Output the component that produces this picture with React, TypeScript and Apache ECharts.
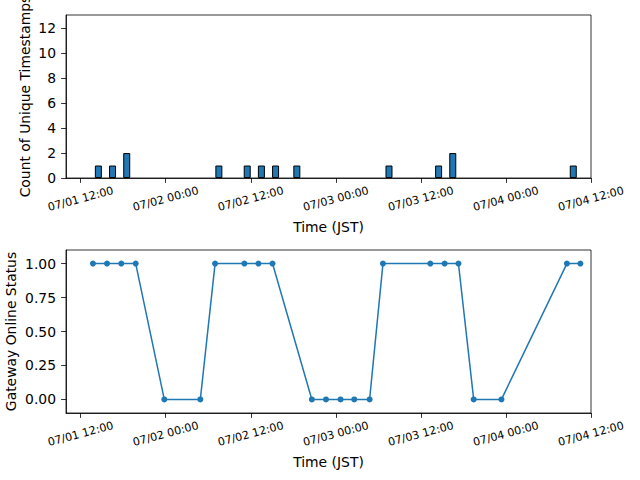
import React, { useEffect, useRef } from "react";
import * as echarts from "echarts";

// Hourly bins (start time, JST) that hold unique timestamps, and their counts
const barBins: string[] = [
  "07/01 14:00", "07/01 16:00", "07/01 18:00",
  "07/02 07:00", "07/02 11:00", "07/02 13:00", "07/02 15:00", "07/02 18:00",
  "07/03 07:00", "07/03 14:00", "07/03 16:00",
  "07/04 09:00",
];
const barCounts: number[] = [1, 1, 2, 1, 1, 1, 1, 1, 1, 1, 2, 1];

// Gateway online status checks (JST)
const statusTimes: string[] = [
  "07/01 13:44", "07/01 15:43", "07/01 17:44", "07/01 19:46",
  "07/01 23:48", "07/02 04:53",
  "07/02 06:58", "07/02 11:06", "07/02 13:05", "07/02 15:04",
  "07/02 20:37", "07/02 22:37", "07/03 00:40", "07/03 02:36", "07/03 04:46",
  "07/03 06:39", "07/03 13:20", "07/03 15:21", "07/03 17:18",
  "07/03 19:27", "07/03 23:22",
  "07/04 08:36", "07/04 10:30",
];
const statusValues: number[] = [
  1, 1, 1, 1,
  0, 0,
  1, 1, 1, 1,
  0, 0, 0, 0, 0,
  1, 1, 1, 1,
  0, 0,
  1, 1,
];

const xTickLabels: string[] = [
  "07/01 12:00", "07/02 00:00", "07/02 12:00", "07/03 00:00",
  "07/03 12:00", "07/04 00:00", "07/04 12:00",
];
const xStart = "07/01 09:56";
const xEnd = "07/04 12:00";
const countTicks: number[] = [0, 2, 4, 6, 8, 10, 12];
const statusTicks: number[] = [0, 0.25, 0.5, 0.75, 1.0];

// hours since 07/01 00:00
function toHours(s: string): number {
  const [d, t] = s.split(" ");
  const day = parseInt(d.split("/")[1], 10);
  const [hh, mm] = t.split(":").map((v) => parseInt(v, 10));
  return (day - 1) * 24 + hh + mm / 60;
}
function fmtHours(h: number): string {
  const day = Math.floor(h / 24) + 1;
  const hr = Math.round(h - (day - 1) * 24);
  const p = (n: number) => String(n).padStart(2, "0");
  return `07/${p(day)} ${p(hr)}:00`;
}

const FONT = "DejaVu Sans";
const BLUE = "#1f77b4";
const TICK = { show: true, length: 4.9, lineStyle: { color: "#000", width: 0.8 } };
const AXLINE = { show: true, onZero: false, lineStyle: { color: "#000", width: 0.8 } };

export default function App() {
  const ref = useRef<HTMLDivElement>(null);
  useEffect(() => {
    if (!ref.current) return;
    const chart = echarts.init(ref.current, undefined, { renderer: "svg" });
    const xTicks = xTickLabels.map(toHours);
    const xMin = toHours(xStart);
    const xMax = toHours(xEnd);

    const makeX = (gridIndex: number) => ({
      type: "value" as const,
      gridIndex,
      min: xMin,
      max: xMax,
      name: "Time (JST)",
      nameLocation: "middle" as const,
      nameGap: 42,
      nameMoveOverlap: false,
      nameTextStyle: { fontFamily: FONT, fontSize: 13.9, color: "#000" },
      splitLine: { show: false },
      axisLine: AXLINE,
      axisTick: { ...TICK, customValues: xTicks },
      axisLabel: {
        customValues: xTicks,
        formatter: (v: number) => fmtHours(v),
        rotate: 15,
        align: "center",
        verticalAlign: "middle",
        margin: 21,
        fontFamily: FONT,
        fontSize: 11.1,
        color: "#000",
      },
    });

    const barData = barBins.map((b, i) => [toHours(b) + 0.5, barCounts[i]]);
    const lineData = statusTimes.map((t, i) => [toHours(t), statusValues[i]]);

    chart.setOption({
      animation: false,
      backgroundColor: "#fff",
      grid: [
        { left: 66, top: 15, width: 525, height: 163, show: true, borderColor: "#000", borderWidth: 0.8, outerBoundsMode: "none", containLabel: false },
        { left: 66, top: 250, width: 525, height: 163, show: true, borderColor: "#000", borderWidth: 0.8, outerBoundsMode: "none", containLabel: false },
      ],
      xAxis: [makeX(0), makeX(1)],
      yAxis: [
        {
          type: "value",
          gridIndex: 0,
          min: 0,
          max: 13.07,
          name: "Count of Unique Timestamps",
          nameLocation: "middle",
          nameGap: 34,
          nameMoveOverlap: false,
          nameTextStyle: { fontFamily: FONT, fontSize: 13.9, color: "#000" },
          splitLine: { show: false },
          axisLine: AXLINE,
          axisTick: { ...TICK, customValues: countTicks },
          axisLabel: {
            customValues: countTicks,
            formatter: (v: number) => String(v),
            margin: 10,
            fontFamily: FONT,
            fontSize: 13.9,
            color: "#000",
          },
        },
        {
          type: "value",
          gridIndex: 1,
          min: -0.1,
          max: 1.1,
          name: "Gateway Online Status",
          nameLocation: "middle",
          nameGap: 48,
          nameMoveOverlap: false,
          nameTextStyle: { fontFamily: FONT, fontSize: 13.9, color: "#000" },
          splitLine: { show: false },
          axisLine: AXLINE,
          axisTick: { ...TICK, customValues: statusTicks },
          axisLabel: {
            customValues: statusTicks,
            formatter: (v: number) => v.toFixed(2),
            margin: 10,
            fontFamily: FONT,
            fontSize: 13.9,
            color: "#000",
          },
        },
      ],
      series: [
        {
          type: "bar",
          xAxisIndex: 0,
          yAxisIndex: 0,
          data: barData,
          barWidth: 7,
          itemStyle: { color: BLUE, borderColor: "#000", borderWidth: 1 },
        },
        {
          type: "line",
          xAxisIndex: 1,
          yAxisIndex: 1,
          data: lineData,
          symbol: "circle",
          symbolSize: 6,
          showSymbol: true,
          lineStyle: { color: BLUE, width: 1.5 },
          itemStyle: { color: BLUE },
        },
      ],
    });
    return () => chart.dispose();
  }, []);
  return (
    <div
      ref={ref}
      style={{ position: "absolute", left: 0, top: 0, width: 640, height: 480 }}
    />
  );
}
